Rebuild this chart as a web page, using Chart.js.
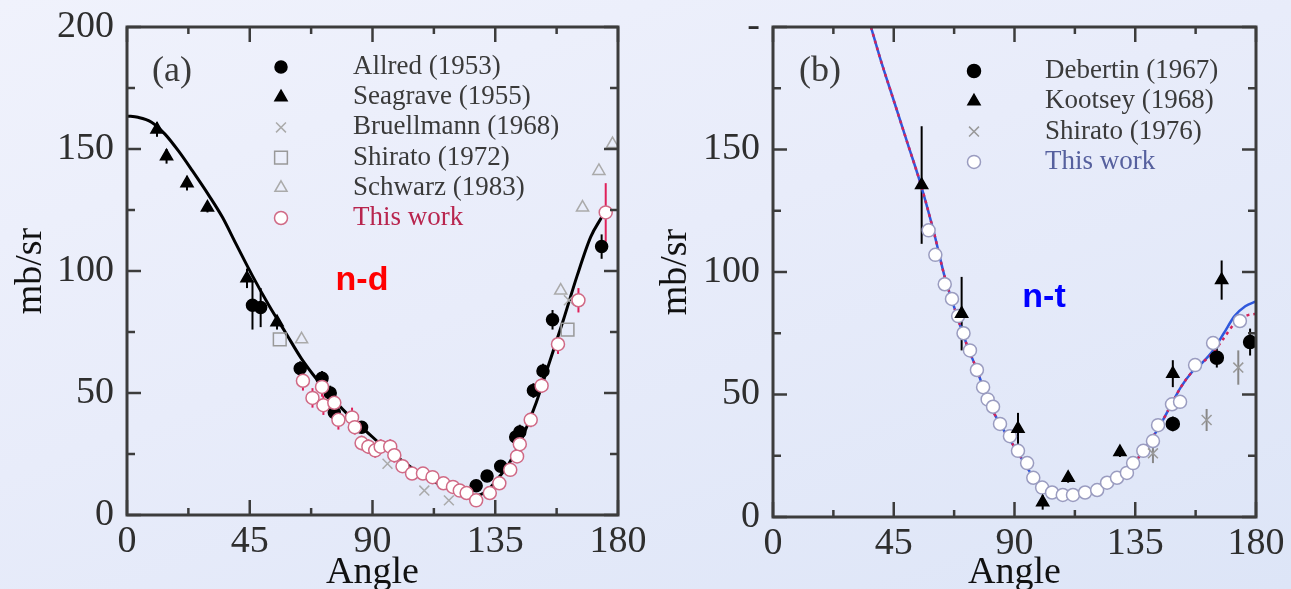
<!DOCTYPE html>
<html>
<head>
<meta charset="utf-8">
<title>n-d and n-t elastic scattering</title>
<script src="https://cdn.jsdelivr.net/npm/chart.js@4.4.1/dist/chart.umd.min.js"></script>
<style>
  html, body { margin: 0; padding: 0; overflow: hidden; }
  body {
    width: 1291px; height: 589px; position: relative;
    background: linear-gradient(160deg, #f0f2fc 0%, #e8ecfa 45%, #dde5f7 100%);
  }
  canvas { position: absolute; top: 0; }
  #nd { left: 0; }
  #nt { left: 645px; }
</style>
</head>
<body>
<canvas id="nd" width="660" height="600"></canvas>
<canvas id="nt" width="646" height="600"></canvas>
<script>
// axes
const angleTicks = [0, 45, 90, 135, 180];
const angleMinor = [22.5, 67.5, 112.5, 157.5];
const valueTicks = [0, 50, 100, 150, 200];
const valueMinor = [25, 75, 125, 175];

// (a) n-d : calculation
const ndCurveAngle = [0, 4, 9, 14, 19, 24, 30, 35, 40, 46, 52, 58, 64, 70, 76, 82, 88, 94, 100, 106, 112, 118, 124, 128, 132, 136, 140, 145, 150, 155, 160, 165, 170, 174];
const ndCurveValue = [163.5, 163, 161, 156, 149, 141, 131, 122, 111, 98, 86, 75, 64, 55, 47, 40, 34, 28, 23, 18, 14, 11, 8.5, 8, 10, 15, 21, 32, 46, 63, 80, 98, 114, 122];

// (a) n-d : measurements
const allredAngle = [46, 49, 63.5, 71.5, 74.5, 76, 86, 128, 132, 137, 142.5, 144, 149, 152.5, 156, 174];
const allredValue = [86, 85, 60, 56, 50, 42, 36, 12, 16, 20, 32, 34, 51, 59, 80, 110];
const allredError = [10, 8, 3, 3, 3, 3, 2, 2, 2, 2, 3, 3, 3, 3, 4, 5];

const seagraveAngle = [11, 14.5, 22, 29.5, 44, 55];
const seagraveValue = [158, 147, 136, 126, 97, 79];
const seagraveError = [3, 3, 3, 2, 4, 3];

const bruellmannAngle = [95.5, 109, 118, 162];
const bruellmannValue = [21, 10, 6, 88];

const shirato72Angle = [56, 161.5];
const shirato72Value = [72, 76];

const schwarzAngle = [64, 159, 167, 173, 178];
const schwarzValue = [72, 92, 126, 141, 152];

const ndWorkAngle = [64.5, 68, 71.5, 72, 76, 77.5, 82.5, 83.5, 86, 88.5, 91, 93, 96.5, 98, 101, 104.5, 108.5, 112, 116, 119.5, 122, 124.5, 128, 133, 136.5, 140.5, 143, 144, 148, 152, 158, 165.5, 175.5];
const ndWorkValue = [55, 48, 52.5, 45, 46, 39, 40, 36, 29.5, 28, 26.5, 28, 28, 24.5, 20, 17, 17, 15.5, 13, 11.5, 10, 9, 6, 9, 13, 18.5, 24, 29, 39, 53, 70, 88, 124];
const ndWorkError = [4, 4, 4, 4, 4, 4, 4, 3, 3, 3, 3, 3, 3, 3, 2, 2, 2, 2, 2, 2, 2, 2, 2, 2, 2, 2, 2, 2, 3, 3, 4, 5, 12];

// (b) n-t : calculations
const ntCurveAngle = [36.5, 40, 45, 50, 55, 60, 64, 68, 72, 76, 80, 84, 88, 92, 96, 100, 104, 108, 112, 116, 120, 124, 128, 132, 136, 140, 144, 148, 152, 156, 160, 164, 168, 172, 176, 180];
const ntBlueValue = [200, 187, 170, 153, 136, 116, 98, 84, 71, 60, 48, 39, 32, 25, 18, 13, 10.5, 9, 9, 9.5, 11, 13.5, 16, 19, 24, 30, 37, 45, 53, 59, 63, 68, 75, 82, 86, 88];
const ntRedValue = [200, 187, 170, 153, 136, 116, 98, 84, 71, 60, 48, 39, 32, 25, 18, 13, 10.5, 9, 9, 9.5, 11, 13.5, 16, 19, 24, 30, 37, 45, 53, 59, 63, 67, 73, 79, 82, 83];

// (b) n-t : measurements
const debertinAngle = [149, 165.4, 177.8];
const debertinValue = [38, 65, 71.4];
const debertinError = [3, 4, 5.5];

const kootseyAngle = [55.4, 70.3, 91.3, 100.5, 110, 129.3, 149, 167.2];
const kootseyValue = [135.5, 83, 36, 6, 16, 26.5, 58.5, 96.7];
const kootseyError = [24, 15, 6.5, 3, 2, 2, 5.5, 8];

const shirato76Angle = [141.6, 161.6, 173.4];
const shirato76Value = [26, 39.6, 61];
const shirato76Error = [4, 4.5, 7];

const ntWorkAngle = [58, 60.5, 64, 66.7, 69, 71, 73.4, 76, 78.3, 80, 82, 84.6, 88.3, 91.3, 94.7, 97, 100.3, 104, 108, 111.8, 116.3, 120.8, 124.5, 128.2, 131.9, 134.2, 138, 141.6, 143.5, 148.7, 151.7, 157.3, 164, 174];
const ntWorkValue = [117, 107, 95, 89, 82, 75, 68, 60, 53, 48, 45, 38, 33, 27, 22, 16, 12, 10, 9, 9, 10, 11, 14, 16, 18, 22, 27, 31, 37.5, 46, 47, 62, 71, 80];

const serif = "'Liberation Serif', 'Times New Roman', serif";
const sans = "'Liberation Sans', Arial, sans-serif";

function pts(xs, ys) {
  return xs.map((x, i) => ({ x: x, y: ys[i] }));
}

function marks(label, xs, ys, style) {
  return Object.assign({
    label: label,
    data: pts(xs, ys),
    pointStyle: 'circle',
    pointRadius: 6,
    pointBorderWidth: 1.5,
    pointBackgroundColor: '#000',
    pointBorderColor: '#000',
    order: 2
  }, style);
}

function curve(xs, ys, color, dash, order) {
  return {
    data: pts(xs, ys),
    showLine: true,
    pointRadius: 0,
    borderColor: color,
    borderWidth: 2.5,
    borderDash: dash || [],
    cubicInterpolationMode: 'monotone',
    inLegend: false,
    order: order || 5
  };
}

// vertical error bars, drawn under the markers
const errorBars = {
  id: 'errorBars',
  beforeDatasetsDraw(chart) {
    const { ctx, scales: { x, y } } = chart;
    ctx.save();
    chart.data.datasets.forEach(ds => {
      if (!ds.errors) return;
      ctx.strokeStyle = ds.errorColor || '#000';
      ctx.lineWidth = 2;
      ds.data.forEach((p, i) => {
        const e = ds.errors[i];
        const px = x.getPixelForValue(p.x);
        ctx.beginPath();
        ctx.moveTo(px, y.getPixelForValue(p.y - e));
        ctx.lineTo(px, y.getPixelForValue(p.y + e));
        ctx.stroke();
      });
    });
    ctx.restore();
  }
};

// box around the plot with inward tick marks on all four sides
const frame = {
  id: 'frame',
  afterDatasetsDraw(chart) {
    const { ctx, chartArea: a, scales: { x, y } } = chart;
    const seg = (x1, y1, x2, y2) => { ctx.beginPath(); ctx.moveTo(x1, y1); ctx.lineTo(x2, y2); ctx.stroke(); };
    ctx.save();
    ctx.strokeStyle = '#3c3c3c';
    ctx.lineWidth = 2.5;
    [[angleTicks, 15], [angleMinor, 7]].forEach(([vals, len]) => vals.forEach(v => {
      const px = x.getPixelForValue(v);
      seg(px, a.bottom, px, a.bottom - len);
      seg(px, a.top, px, a.top + len);
    }));
    [[valueTicks, 14], [valueMinor, 8]].forEach(([vals, len]) => vals.forEach(v => {
      const py = y.getPixelForValue(v);
      seg(a.left, py, a.left + len, py);
      seg(a.right, py, a.right - len, py);
    }));
    ctx.lineWidth = 3;
    ctx.strokeRect(a.left, a.top, a.right - a.left, a.bottom - a.top);
    ctx.restore();
  }
};

// key, panel letter and reaction tag
const panelText = {
  id: 'panelText',
  afterDraw(chart, args, opts) {
    const ctx = chart.ctx;
    ctx.save();
    ctx.textBaseline = 'middle';
    let row = 0;
    chart.data.datasets.forEach(ds => {
      if (ds.inLegend === false) return;
      const yy = opts.keyTop + row * opts.keyStep;
      ctx.fillStyle = ds.pointBackgroundColor;
      ctx.strokeStyle = ds.pointBorderColor;
      ctx.lineWidth = ds.pointBorderWidth;
      Chart.helpers.drawPoint(ctx, {
        pointStyle: ds.pointStyle, radius: ds.pointRadius,
        borderWidth: ds.pointBorderWidth, rotation: 0
      }, opts.markerX, yy);
      ctx.fillStyle = ds.keyColor || '#3a3a3a';
      ctx.font = '27px ' + serif;
      ctx.textAlign = 'left';
      ctx.fillText(ds.label, opts.textX, yy);
      row++;
    });
    ctx.textAlign = 'center';
    ctx.fillStyle = '#3a3a3a';
    ctx.font = '36px ' + serif;
    ctx.fillText(opts.panel, opts.panelX, opts.panelY);
    ctx.fillStyle = opts.tagColor;
    ctx.font = 'bold 34px ' + sans;
    ctx.fillText(opts.tag, opts.tagX, opts.tagY);
    ctx.restore();
  }
};

function scales(yWidth, xHeight, yLabel) {
  return {
    x: {
      type: 'linear', min: 0, max: 180,
      afterBuildTicks: s => { s.ticks = angleTicks.map(v => ({ value: v })); },
      ticks: { font: { family: serif, size: 38 }, color: '#2e2e2e', padding: 4, autoSkip: false, maxRotation: 0 },
      grid: { display: false, drawTicks: false },
      border: { display: false },
      title: { display: true, text: 'Angle', font: { family: serif, size: 38 }, color: '#111', padding: { top: 0, bottom: 4 } },
      afterFit: s => { s.height = xHeight; s.paddingLeft = 0; s.paddingRight = 0; }
    },
    y: {
      type: 'linear', min: 0, max: 200,
      afterBuildTicks: s => { s.ticks = valueTicks.map(v => ({ value: v })); },
      ticks: { font: { family: serif, size: 38 }, color: '#2e2e2e', padding: 13, callback: yLabel },
      grid: { display: false, drawTicks: false },
      border: { display: false },
      title: { display: true, text: 'mb/sr', font: { family: serif, size: 38 }, color: '#111', padding: { top: 8, bottom: 0 } },
      afterFit: s => { s.width = yWidth; s.paddingTop = 0; s.paddingBottom = 0; }
    }
  };
}

new Chart(document.getElementById('nd'), {
  type: 'scatter',
  data: {
    datasets: [
      marks('Allred (1953)', allredAngle, allredValue, { errors: allredError, order: 1 }),
      marks('Seagrave (1955)', seagraveAngle, seagraveValue, { pointStyle: 'triangle', pointRadius: 7, errors: seagraveError }),
      marks('Bruellmann (1968)', bruellmannAngle, bruellmannValue, { pointStyle: 'crossRot', pointRadius: 7, pointBackgroundColor: '#aaa', pointBorderColor: '#aaa' }),
      marks('Shirato (1972)', shirato72Angle, shirato72Value, { pointStyle: 'rect', pointRadius: 9, pointBackgroundColor: 'rgba(0,0,0,0)', pointBorderColor: '#999' }),
      marks('Schwarz (1983)', schwarzAngle, schwarzValue, { pointStyle: 'triangle', pointRadius: 7, pointBackgroundColor: 'rgba(0,0,0,0)', pointBorderColor: '#aaa' }),
      marks('This work', ndWorkAngle, ndWorkValue, { pointRadius: 6.5, pointBackgroundColor: '#fff', pointBorderColor: '#d06a86', errors: ndWorkError, errorColor: '#e0205a', keyColor: '#b8254e', order: 0 }),
      Object.assign(curve(ndCurveAngle, ndCurveValue, '#000'), { borderWidth: 3 })
    ]
  },
  options: {
    responsive: false,
    animation: false,
    layout: { padding: { top: 27, right: 42, left: 0, bottom: 0 } },
    scales: scales(127, 85),
    plugins: {
      legend: { display: false },
      tooltip: { enabled: false },
      panelText: {
        keyTop: 67, keyStep: 30.2, markerX: 281, textX: 353,
        panel: '(a)', panelX: 172, panelY: 72,
        tag: 'n-d', tagColor: '#ff0000', tagX: 362, tagY: 281
      }
    }
  },
  plugins: [errorBars, frame, panelText]
});

new Chart(document.getElementById('nt'), {
  type: 'scatter',
  data: {
    datasets: [
      marks('Debertin (1967)', debertinAngle, debertinValue, { pointRadius: 6.5, errors: debertinError, order: 1 }),
      marks('Kootsey (1968)', kootseyAngle, kootseyValue, { pointStyle: 'triangle', pointRadius: 7, errors: kootseyError, order: 1 }),
      marks('Shirato (1976)', shirato76Angle, shirato76Value, { pointStyle: 'crossRot', pointRadius: 7, pointBackgroundColor: '#999', pointBorderColor: '#999', errors: shirato76Error, errorColor: '#888' }),
      marks('This work', ntWorkAngle, ntWorkValue, { pointRadius: 6.5, pointBackgroundColor: '#fff', pointBorderColor: '#9a9cc0', keyColor: '#56609e', order: 3 }),
      curve(ntCurveAngle, ntBlueValue, '#2f58dc', null, 6),
      curve(ntCurveAngle, ntRedValue, '#d4245a', [3, 4], 5)
    ]
  },
  options: {
    responsive: false,
    animation: false,
    layout: { padding: { top: 27, right: 35, left: 0, bottom: 0 } },
    scales: scales(128, 83, v => (v === 200 ? '-' : v)),
    plugins: {
      legend: { display: false },
      tooltip: { enabled: false },
      panelText: {
        keyTop: 71, keyStep: 30.3, markerX: 329, textX: 400,
        panel: '(b)', panelX: 175, panelY: 72,
        tag: 'n-t', tagColor: '#0000ff', tagX: 399, tagY: 298
      }
    }
  },
  plugins: [errorBars, frame, panelText]
});
</script>
</body>
</html>
